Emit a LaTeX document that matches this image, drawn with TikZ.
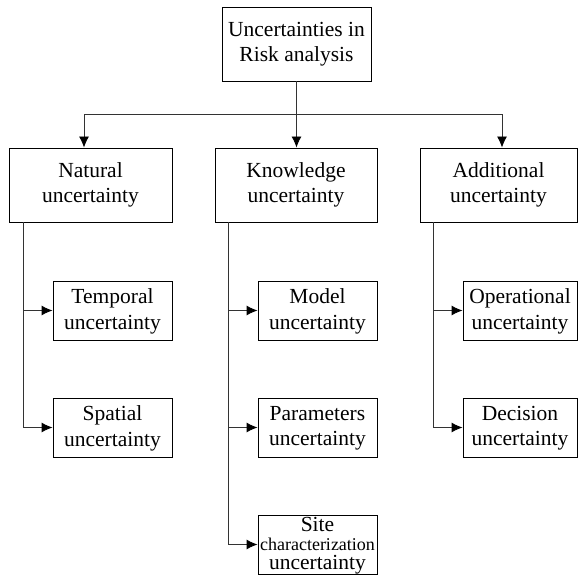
\documentclass[tikz,border=0pt]{standalone}
\usepackage{fontspec}
\setmainfont{Liberation Serif}
\usetikzlibrary{arrows.meta}
\tikzset{>={Latex[length=11pt,width=10pt,color=black]}}
\tikzset{
  box/.style={draw, line width=0.9pt, align=center, inner sep=0pt, font=\fontsize{21.5}{25.5}\selectfont},
  mainbox/.style={box, minimum height=74pt},
  subbox/.style={box, minimum width=119pt, minimum height=59pt, text depth=3pt},
  link/.style={draw=black!80, line width=0.9pt}
}

\begin{document}
\begin{tikzpicture}[x=1pt,y=-1pt]
\useasboundingbox (0,0) rectangle (578,575);

% Root
\node[mainbox, minimum width=149pt] (risk) at (296.5,44) {Uncertainties in\\Risk analysis};

% Main branches
\node[mainbox, minimum width=163pt] (natural) at (90.5,185) {Natural\\uncertainty};
\node[mainbox, minimum width=162pt] (knowledge) at (296,185) {Knowledge\\uncertainty};
\node[mainbox, minimum width=157pt] (additional) at (498.5,185) {Additional\\uncertainty};

% Leaves
\node[subbox] (temporal) at (112.5,310.5) {Temporal\\uncertainty};
\node[subbox] (spatial) at (112.5,427.5) {Spatial\\uncertainty};

\node[subbox] (model) at (317.5,310.5) {Model\\uncertainty};
\node[subbox] (parameters) at (317.5,427.5) {Parameters\\uncertainty};
\node[subbox, font=\fontsize{21.5}{19}\selectfont] (site) at (317.5,544.5) {Site\\{\fontsize{18}{19}\selectfont characterization}\\uncertainty};

\node[subbox, minimum width=114pt] (operational) at (520,310.5) {Operational\\uncertainty};
\node[subbox, minimum width=114pt] (decision) at (520,427.5) {Decision\\uncertainty};

% Fork below the root
\coordinate (fork) at ([yshift=-33pt]risk.south);
\coordinate (natural_in) at ([xshift=-6.5pt]natural.north);
\coordinate (additional_in) at ([xshift=3.5pt]additional.north);

\draw[link] (risk.south) -- (fork);
\draw[link,->] (fork) -| (natural_in);
\draw[link,->] (fork) -| (additional_in);
\draw[link,->] (fork) -- (fork |- knowledge.north);

% Trunks to the leaves
\coordinate (natural_trunk) at ([xshift=15pt]natural.south west);
\coordinate (knowledge_trunk) at ([xshift=14pt]knowledge.south west);
\coordinate (additional_trunk) at ([xshift=14pt]additional.south west);

\foreach \leaf in {temporal, spatial}{
    \draw[link,->] (natural_trunk) |- (\leaf.west);
}
\foreach \leaf in {model, parameters, site}{
    \draw[link,->] (knowledge_trunk) |- (\leaf.west);
}
\foreach \leaf in {operational, decision}{
    \draw[link,->] (additional_trunk) |- (\leaf.west);
}

\end{tikzpicture}
\end{document}
